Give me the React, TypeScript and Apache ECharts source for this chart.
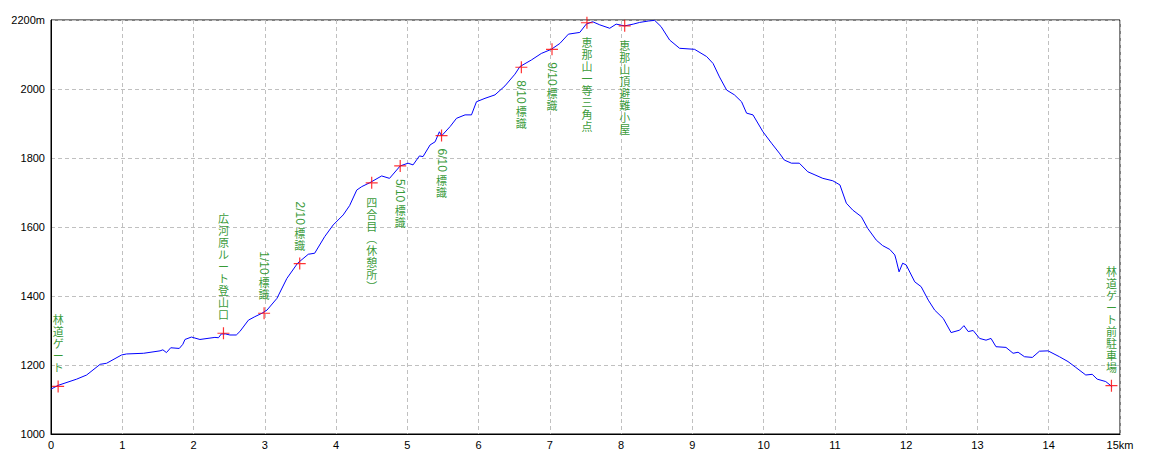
import React, { useEffect, useRef } from "react";
import * as echarts from "echarts";

// Profile: distance (km) and elevation (m)
const distanceKm = [
  0.0, 0.1, 0.36, 0.5, 0.69, 0.78, 0.99, 1.06, 1.3, 1.53, 1.57, 1.62, 1.68, 1.8, 1.85, 1.88, 1.97, 2.09,
  2.3, 2.35, 2.39, 2.45, 2.51, 2.6, 2.65, 2.77, 2.86, 2.96, 3.03, 3.17, 3.31, 3.46, 3.61, 3.7, 3.84, 3.96,
  4.1, 4.19, 4.29, 4.36, 4.47, 4.64, 4.75, 4.9, 5.01, 5.08, 5.17, 5.22, 5.32, 5.39, 5.45, 5.48, 5.6, 5.69,
  5.81, 5.9, 5.97, 6.09, 6.23, 6.37, 6.51, 6.58, 6.74, 6.88, 7.02, 7.14, 7.26, 7.42, 7.51, 7.6, 7.7, 7.84,
  7.93, 8.05, 8.17, 8.26, 8.38, 8.47, 8.56, 8.68, 8.82, 9.03, 9.2, 9.29, 9.38, 9.48, 9.59, 9.69, 9.76, 9.85,
  9.99, 10.11, 10.22, 10.29, 10.39, 10.5, 10.62, 10.72, 10.83, 10.97, 11.07, 11.16, 11.25, 11.37, 11.46,
  11.58, 11.67, 11.77, 11.84, 11.86, 11.9, 11.95, 12.0, 12.12, 12.21, 12.31, 12.4, 12.52, 12.63, 12.75,
  12.81, 12.87, 12.94, 13.03, 13.12, 13.19, 13.26, 13.4, 13.5, 13.57, 13.66, 13.77, 13.87, 13.99, 14.15,
  14.27, 14.38, 14.52, 14.61, 14.68, 14.8, 14.89,
];
const elevationM = [
  1130, 1141, 1159, 1171, 1202, 1205, 1229, 1232, 1234, 1241, 1244, 1236, 1250, 1248, 1260, 1274, 1281, 1274,
  1280, 1279, 1290, 1290, 1287, 1287, 1297, 1330, 1340, 1350, 1359, 1393, 1451, 1495, 1521, 1524, 1572, 1606,
  1635, 1662, 1707, 1717, 1728, 1748, 1741, 1777, 1785, 1780, 1806, 1804, 1838, 1847, 1876, 1864, 1891, 1915,
  1925, 1925, 1963, 1973, 1983, 2009, 2043, 2065, 2084, 2103, 2115, 2132, 2159, 2164, 2188, 2195, 2186, 2176,
  2188, 2183, 2188, 2193, 2197, 2199, 2181, 2142, 2118, 2115, 2094, 2074, 2035, 1997, 1983, 1963, 1930, 1925,
  1876, 1843, 1814, 1794, 1785, 1785, 1760, 1751, 1741, 1734, 1722, 1669, 1649, 1630, 1596,
  1562, 1546, 1535, 1519, 1504, 1470, 1495, 1490, 1441, 1427, 1388, 1359, 1335, 1294, 1301,
  1314, 1297, 1300, 1277, 1272, 1277, 1253, 1251, 1234, 1237, 1224, 1222, 1240, 1241, 1224,
  1210, 1193, 1171, 1173, 1159, 1152, 1137,
];

// Waypoints
const waypointKm = [0.1, 2.42, 2.99, 3.49, 4.5, 4.9, 5.48, 6.6, 7.03, 7.52, 8.05, 14.88];
const waypointElev = [1138, 1292, 1350, 1494, 1728, 1777, 1865, 2063, 2115, 2192, 2183, 1140];
const waypointNum = ["", "", "1/10", "2/10", "", "5/10", "6/10", "8/10", "9/10", "", "", ""];
const waypointText = [
  "林道ゲート",
  "広河原ルート登山口",
  "標識",
  "標識",
  "四合目︵休憩所︶",
  "標識",
  "標識",
  "標識",
  "標識",
  "恵那山一等三角点",
  "恵那山頂避難小屋",
  "林道ゲート前駐車場",
];
const waypointSide = ["top", "top", "top", "top", "bottom", "bottom", "bottom", "bottom", "bottom", "bottom", "bottom", "top"];

// Axes
const xMin = 0;
const xMax = 15;
const xStep = 1;
const yMin = 1000;
const yMax = 2200;
const yStep = 200;

const CH = 12; // pitch of stacked characters
const NUM_LEN = 24; // length of rotated "N/10"
const GAP = 13;
const HALF = 6;

function layout(i: number) {
  const hasNum = waypointNum[i] !== "";
  const numPart = hasNum ? NUM_LEN + 1 : 0;
  const total = numPart + Array.from(waypointText[i]).length * CH;
  const start = waypointSide[i] === "top" ? -(GAP + total) : GAP;
  return { start, numPart };
}

export default function App() {
  const ref = useRef<HTMLDivElement>(null);
  useEffect(() => {
    document.body.style.margin = "0";
    const chart = echarts.init(ref.current!, null, { renderer: "svg" });
    const green = "#008000";
    const chars = waypointText.map((t) => Array.from(t));
    const maxLen = Math.max(...chars.map((c) => c.length));

    const charSeries: any[] = [];
    for (let k = 0; k < maxLen; k++) {
      const data: any[] = [];
      waypointKm.forEach((km, i) => {
        if (chars[i].length <= k) return;
        const { start, numPart } = layout(i);
        data.push({
          value: [km, waypointElev[i]],
          label: {
            show: true,
            position: [HALF, HALF + start + numPart + k * CH],
            align: "center",
            verticalAlign: "top",
            formatter: chars[i][k],
          },
        });
      });
      charSeries.push({
        type: "scatter",
        data,
        symbol: "circle",
        symbolSize: 12,
        itemStyle: { color: "rgba(0,0,0,0)" },
        label: {
          color: green,
          fontSize: 11,
          lineHeight: CH,
          fontFamily: "Noto Sans CJK JP",
        },
        z: 3,
        silent: true,
      });
    }

    const numData = waypointKm
      .map((k, i) => {
        const { start } = layout(i);
        return {
          value: [k, waypointElev[i]],
          label: {
            show: true,
            position: [HALF, HALF + start],
            align: "left",
            verticalAlign: "middle",
            rotate: -90,
            formatter: waypointNum[i],
          },
        };
      })
      .filter((_, i) => waypointNum[i] !== "");

    chart.setOption({
      animation: false,
      backgroundColor: "#fff",
      grid: {
        left: 51,
        top: 20,
        right: 40,
        bottom: 30,
        show: true,
        borderColor: "#000",
        borderWidth: 1,
        backgroundColor: "transparent",
      },
      xAxis: {
        type: "value",
        min: xMin,
        max: xMax,
        interval: xStep,
        axisLine: { show: true, lineStyle: { color: "#000", width: 1 } },
        axisTick: { show: false },
        axisLabel: {
          color: "#000",
          fontSize: 11,
          fontFamily: "Liberation Sans",
          margin: 5,
          formatter: (v: number) => (v === xMax ? `${v}km` : `${v}`),
        },
        splitLine: { show: true, lineStyle: { color: "#c0c0c0", type: [4, 3], width: 1 } },
      },
      yAxis: {
        type: "value",
        min: yMin,
        max: yMax,
        interval: yStep,
        axisLine: { show: true, lineStyle: { color: "#000", width: 1 } },
        axisTick: { show: false },
        axisLabel: {
          color: "#000",
          fontSize: 11,
          fontFamily: "Liberation Sans",
          margin: 6,
          formatter: (v: number) => (v === yMax ? `${v}m` : `${v}`),
        },
        splitLine: { show: true, lineStyle: { color: "#c0c0c0", type: [4, 3], width: 1 } },
      },
      series: [
        {
          type: "line",
          data: distanceKm.map((d, i) => [d, elevationM[i]]),
          showSymbol: false,
          symbol: "none",
          lineStyle: { color: "#0000ff", width: 1 },
          z: 2,
          silent: true,
        },
        {
          type: "scatter",
          data: waypointKm.map((k, i) => [k, waypointElev[i]]),
          symbol: "path://M0,6L12,6M6,0L6,12",
          symbolSize: 12,
          itemStyle: { color: "rgba(0,0,0,0)", borderColor: "#ff0000", borderWidth: 1.2 },
          z: 4,
          silent: true,
        },
        {
          type: "scatter",
          data: numData,
          symbol: "circle",
          symbolSize: 12,
          itemStyle: { color: "rgba(0,0,0,0)" },
          label: {
            color: green,
            fontSize: 12,
            fontFamily: "Liberation Sans",
          },
          z: 3,
          silent: true,
        },
        ...charSeries,
      ],
    });
    return () => chart.dispose();
  }, []);
  return <div ref={ref} style={{ position: "fixed", left: 0, top: 0, width: 1160, height: 464 }} />;
}
